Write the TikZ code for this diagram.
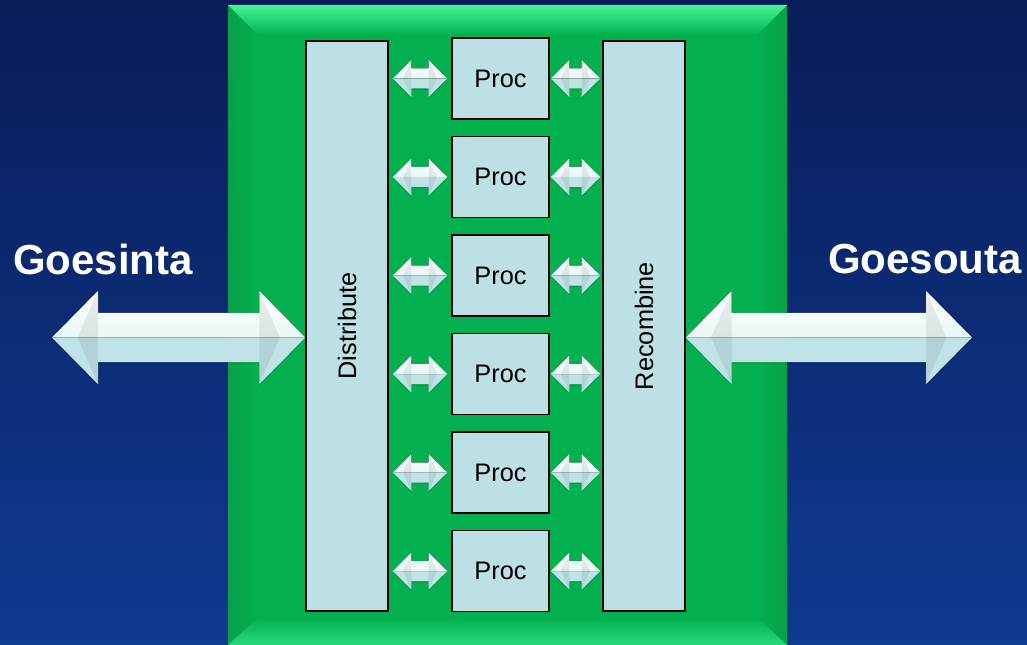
\documentclass[tikz,border=0pt]{standalone}
\usepackage{fontspec}
\setmainfont{Liberation Sans}
\usetikzlibrary{calc}
\definecolor{bgtop}{RGB}{9,29,88}
\definecolor{bgbot}{RGB}{15,58,145}
\definecolor{panel}{RGB}{2,176,80}
\definecolor{panellight}{RGB}{70,245,150}
\definecolor{panelside}{RGB}{8,160,72}
\definecolor{boxfill}{RGB}{189,224,228}
\definecolor{arrowlow}{RGB}{192,227,230}
\definecolor{arrowmid}{RGB}{232,247,247}
\tikzset{
  blockbox/.style={draw=black, line width=1.1pt, fill=boxfill, inner sep=0pt},
  procbox/.style={blockbox, minimum width=72.75pt, minimum height=60.75pt, font=\fontsize{19pt}{22pt}\selectfont},
  tallbox/.style={blockbox, minimum width=61.5pt, minimum height=427.5pt},
  sidelabel/.style={text=white, font=\fontsize{31.5pt}{36pt}\selectfont\bfseries}
}
% fat double-headed arrow between two points on the same level
% #1 from, #2 to, #3 head half-height, #4 shaft half-height, #5 head length
\newcommand\dblarrow[5]{%
  \fill[black, opacity=0.10] let \p1=(#1), \p2=(#2) in
    (\x1,\y1-1.2pt) -- (\x1+#5,\y1+#3-1.2pt) -- (\x1+#5,\y1+#4-1.2pt) -- (\x2-#5,\y1+#4-1.2pt)
    -- (\x2-#5,\y1+#3-1.2pt) -- (\x2,\y1-1.2pt) -- (\x2-#5,\y1-#3-1.2pt) -- (\x2-#5,\y1-#4-1.2pt)
    -- (\x1+#5,\y1-#4-1.2pt) -- (\x1+#5,\y1-#3-1.2pt) -- cycle;
  \fill[arrowlow] let \p1=(#1), \p2=(#2) in
    (\x1,\y1) -- (\x2,\y1) -- (\x2-#5,\y1-#3) -- (\x2-#5,\y1-#4)
    -- (\x1+#5,\y1-#4) -- (\x1+#5,\y1-#3) -- cycle;
  \fill[top color=white, bottom color=arrowmid] let \p1=(#1), \p2=(#2) in
    (\x1,\y1) -- (\x1+#5,\y1+#3) -- (\x1+#5,\y1+#4) -- (\x2-#5,\y1+#4)
    -- (\x2-#5,\y1+#3) -- (\x2,\y1) -- cycle;
  \fill[black, opacity=0.07] let \p1=(#1), \p2=(#2) in
    (\x1+#5,\y1+#3) -- (\x1+#5,\y1-#3) -- (\x1+0.55*#5,\y1) -- cycle
    (\x2-#5,\y1+#3) -- (\x2-#5,\y1-#3) -- (\x2-0.55*#5,\y1) -- cycle;
}
\begin{document}
\begin{tikzpicture}[x=0.75pt, y=-0.75pt]
  % background
  \shade[top color=bgtop, bottom color=bgbot] (0,0) rectangle (1027,645);
  \useasboundingbox (0,0) rectangle (1027,645);

  % green bevelled panel
  \fill[panel] (228,5) rectangle (787,650);
  \shade[left color=panelside, right color=panel] (228,5) -- (258,35) -- (258,615) -- (228,645) -- cycle;
  \shade[left color=panel, right color=panelside] (787,5) -- (757,35) -- (757,615) -- (787,645) -- cycle;
  \shade[top color=panellight, bottom color=panel] (228,5) -- (787,5) -- (757,35) -- (258,35) -- cycle;
  \shade[top color=panel, bottom color=panellight!60!panel] (258,618) -- (757,618) -- (787,645) -- (228,645) -- cycle;

  % blocks
  \node[tallbox] (dist) at (347,326) {};
  \node[rotate=90, font=\fontsize{19pt}{22pt}\selectfont] at (dist.center) {Distribute};
  \node[tallbox] (reco) at (644,326) {};
  \node[rotate=90, font=\fontsize{19pt}{22pt}\selectfont] at (reco.center) {Recombine};

  \foreach \i/\y in {1/78.5, 2/177, 3/275.5, 4/374, 5/472.5, 6/571} {
    \node[procbox] (p\i) at (500.5,\y) {Proc};
    \coordinate (l\i) at ($(dist.east |- p\i.west)+(4,0)$);
    \coordinate (m\i) at ($(p\i.west)+(-4,0)$);
    \coordinate (n\i) at ($(p\i.east)+(1,0)$);
    \coordinate (r\i) at ($(reco.west |- p\i.east)+(-2,0)$);
    \dblarrow{l\i}{m\i}{13.9pt}{7.5pt}{14pt}
    \dblarrow{n\i}{r\i}{13.9pt}{7.5pt}{14pt}
  }

  % input and output
  \coordinate (inend) at (52,337.5);
  \coordinate (outend) at (972,337.5);
  \dblarrow{inend}{dist.west |- inend}{35pt}{18.4pt}{34.5pt}
  \dblarrow{reco.east |- outend}{outend}{35pt}{18.4pt}{34.5pt}

  \node[sidelabel] (gin) at (103,259) {Goesinta};
  \node[sidelabel] (gout) at (925,259) {Goesouta};
\end{tikzpicture}
\end{document}
